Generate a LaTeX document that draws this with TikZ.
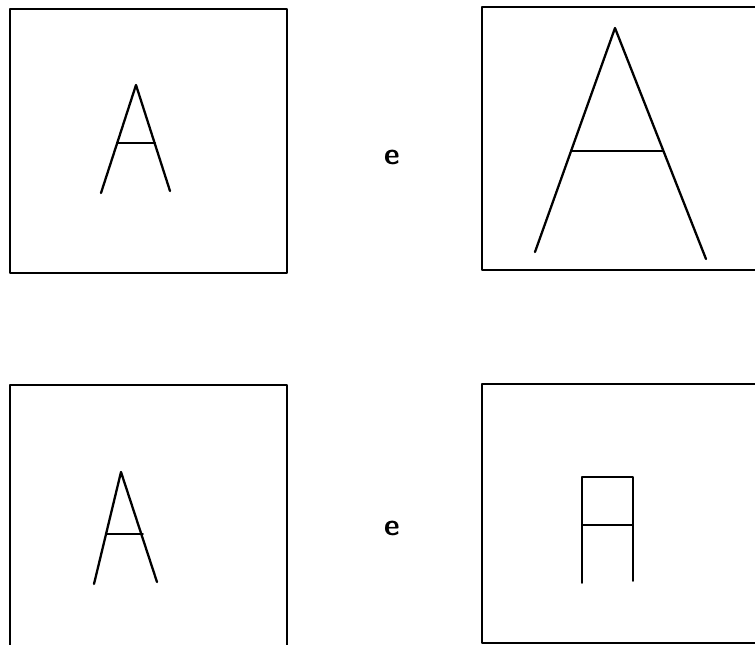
\documentclass[tikz,border=0pt]{standalone}
\usepackage{tikz}

\begin{document}
\begin{tikzpicture}[x=0.02cm, y=-0.02cm, line cap=round, line join=round,
    frame/.style={line width=1.1pt},
    glyph/.style={line width=1.3pt},
    thin glyph/.style={line width=0.9pt},
    conj/.style={font=\sffamily\bfseries\LARGE}]
  \useasboundingbox (0,0) rectangle (755,645);

  % Top left frame
  \draw[frame] (10,9) rectangle (287,273);
  \draw[glyph] (101,193) -- (136,85) -- (170,191);
  \draw[glyph] (118,143) -- (155,143);

  % Top right frame (cut at the right edge)
  \draw[frame] (756,7) -- (482,7) -- (482,270) -- (756,270);
  \draw[glyph] (535,252) -- (615,28) -- (706,259);
  \draw[thin glyph] (572,151) -- (663,151);

  % Bottom left frame (cut at the bottom edge)
  \draw[frame] (10,646) -- (10,385) -- (287,385) -- (287,646);
  \draw[glyph] (94,584) -- (121,472) -- (157,582);
  \draw[thin glyph] (106,534) -- (143,534);

  % Bottom right frame
  \draw[frame] (756,384) -- (482,384) -- (482,643) -- (756,643);
  \draw[thin glyph] (582,583) -- (582,477) -- (633,477) -- (633,581);
  \draw[thin glyph] (582,525) -- (633,525);

  % Connectives
  \node[conj] (etop) at (392,157) {e};
  \node[conj] (ebot) at (392,528) {e};
\end{tikzpicture}
\end{document}
